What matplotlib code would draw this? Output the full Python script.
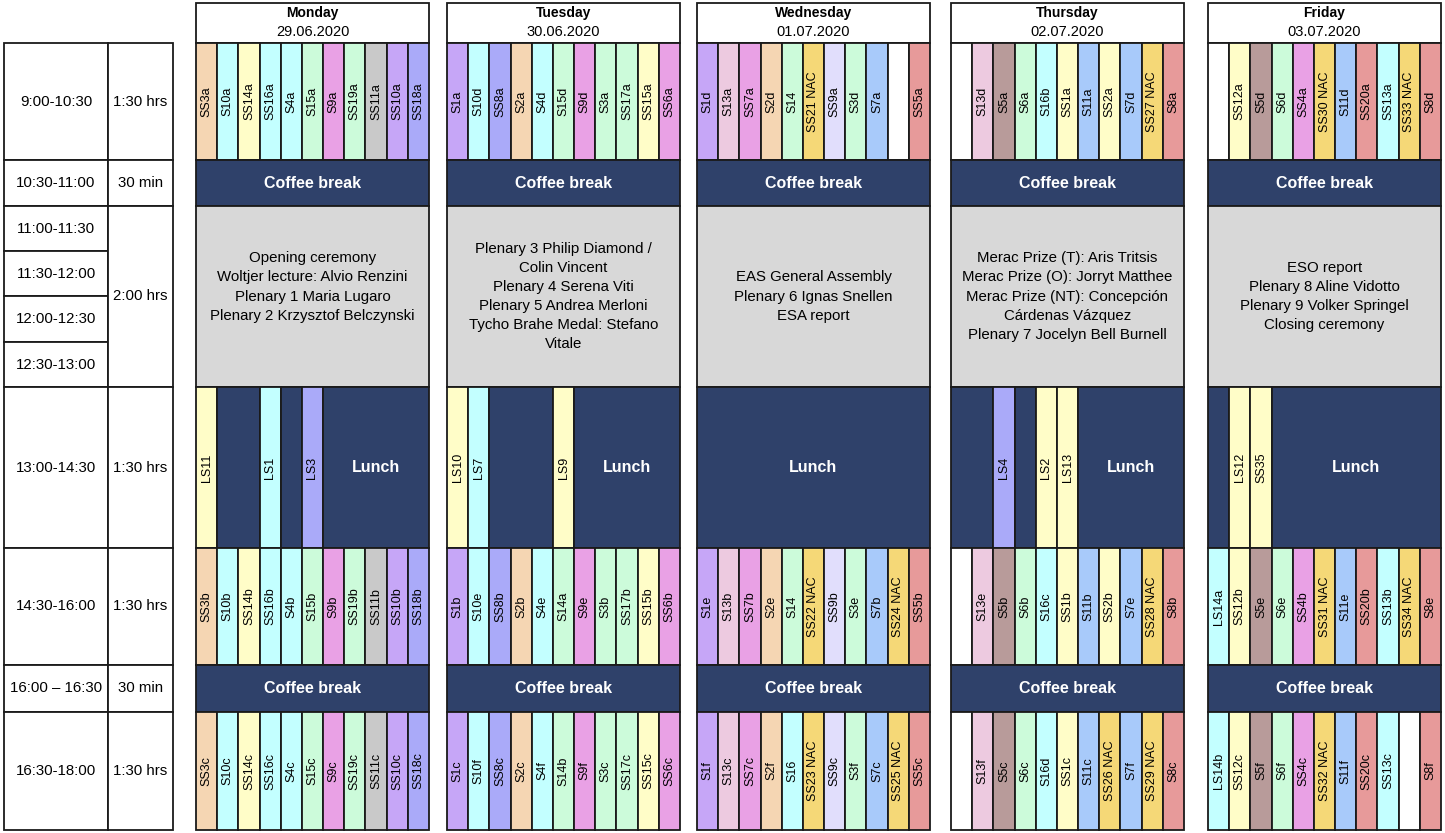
import re
import matplotlib
matplotlib.use("Agg")
import matplotlib.pyplot as plt
from matplotlib.patches import Rectangle

plt.rcParams['font.family'] = ['Liberation Sans', 'DejaVu Sans']

# data
days = ["Monday", "Tuesday", "Wednesday", "Thursday", "Friday"]
dates = ["29.06.2020", "30.06.2020", "01.07.2020", "02.07.2020", "03.07.2020"]

time_labels = ["9:00-10:30", "10:30-11:00", "11:00-11:30", "11:30-12:00", "12:00-12:30",
               "12:30-13:00", "13:00-14:30", "14:30-16:00", "16:00 \u2013 16:30", "16:30-18:00"]
durations = ["1:30 hrs", "30 min", "2:00 hrs", "1:30 hrs", "1:30 hrs", "30 min", "1:30 hrs"]
duration_span = [1, 1, 4, 1, 1, 1, 1]   # how many time rows each duration covers

morning = [
    ["SS3a", "S10a", "SS14a", "SS16a", "S4a", "S15a", "S9a", "SS19a", "SS11a", "SS10a", "SS18a"],
    ["S1a", "S10d", "SS8a", "S2a", "S4d", "S15d", "S9d", "S3a", "SS17a", "SS15a", "SS6a"],
    ["S1d", "S13a", "SS7a", "S2d", "S14", "SS21 NAC", "SS9a", "S3d", "S7a", "", "SS5a"],
    ["", "S13d", "S5a", "S6a", "S16b", "SS1a", "S11a", "SS2a", "S7d", "SS27 NAC", "S8a"],
    ["", "SS12a", "S5d", "S6d", "SS4a", "SS30 NAC", "S11d", "SS20a", "SS13a", "SS33 NAC", "S8d"],
]
afternoon = [
    ["SS3b", "S10b", "SS14b", "SS16b", "S4b", "S15b", "S9b", "SS19b", "SS11b", "SS10b", "SS18b"],
    ["S1b", "S10e", "SS8b", "S2b", "S4e", "S14a", "S9e", "S3b", "SS17b", "SS15b", "SS6b"],
    ["S1e", "S13b", "SS7b", "S2e", "S14", "SS22 NAC", "SS9b", "S3e", "S7b", "SS24 NAC", "SS5b"],
    ["", "S13e", "S5b", "S6b", "S16c", "SS1b", "S11b", "SS2b", "S7e", "SS28 NAC", "S8b"],
    ["LS14a", "SS12b", "S5e", "S6e", "SS4b", "SS31 NAC", "S11e", "SS20b", "SS13b", "SS34 NAC", "S8e"],
]
evening = [
    ["SS3c", "S10c", "SS14c", "SS16c", "S4c", "S15c", "S9c", "SS19c", "SS11c", "SS10c", "SS18c"],
    ["S1c", "S10f", "SS8c", "S2c", "S4f", "S14b", "S9f", "S3c", "SS17c", "SS15c", "SS6c"],
    ["S1f", "S13c", "SS7c", "S2f", "S16", "SS23 NAC", "SS9c", "S3f", "S7c", "SS25 NAC", "SS5c"],
    ["", "S13f", "S5c", "S6c", "S16d", "SS1c", "S11c", "SS26 NAC", "S7f", "SS29 NAC", "S8c"],
    ["LS14b", "SS12c", "S5f", "S6f", "SS4c", "SS32 NAC", "S11f", "SS20c", "SS13c", "", "S8f"],
]
# lunch talks; None = lunch (dark) slot, the trailing dark run carries the "Lunch" label
lunch = [
    ["LS11", None, None, "LS1", None, "LS3"],
    ["LS10", "LS7", None, None, None, "LS9"],
    [],
    [None, None, "LS4", None, "LS2", "LS13"],
    [None, "LS12", "SS35"],
]
plenary = [
    "Opening ceremony\nWoltjer lecture: Alvio Renzini\nPlenary 1 Maria Lugaro\nPlenary 2 Krzysztof Belczynski\n",
    "Plenary 3 Philip Diamond /\nColin Vincent\nPlenary 4 Serena Viti\nPlenary 5 Andrea Merloni\nTycho Brahe Medal: Stefano\nVitale",
    "EAS General Assembly\nPlenary 6 Ignas Snellen\nESA report",
    "Merac Prize (T): Aris Tritsis\nMerac Prize (O): Jorryt Matthee\nMerac Prize (NT): Concepci\u00f3n\nC\u00e1rdenas V\u00e1zquez\nPlenary 7 Jocelyn Bell Burnell",
    "ESO report\nPlenary 8 Aline Vidotto\nPlenary 9 Volker Springel\nClosing ceremony",
]

# colours
peach, cyan, yellow, green = "#F5D6B3", "#C3FFFF", "#FFFDC8", "#CCFBDA"
pink, grey, violet, peri = "#E9A1E5", "#C9C9C9", "#C6A6F7", "#AAAAF9"
rose, gold, lav, sky = "#EDCAE0", "#F5D877", "#E1DEFC", "#A8CAFA"
salmon, taupe = "#E79A9A", "#B89B9A"
navy, plen_grey = "#2F416A", "#D8D8D8"

track_color = {
    "SS3": peach, "S10": cyan, "SS14": yellow, "SS16": cyan, "S4": cyan, "S15": green,
    "S9": pink, "SS19": green, "SS11": grey, "SS10": violet, "SS18": peri,
    "S1": violet, "SS8": peri, "S2": peach, "S3": green, "SS17": green, "SS15": yellow,
    "SS6": pink, "S14": green, "S13": rose, "SS7": pink, "SS9": lav, "S7": sky,
    "SS5": salmon, "S16": cyan, "S5": taupe, "S6": green, "SS1": yellow, "S11": sky,
    "SS2": yellow, "S8": salmon, "SS12": yellow, "SS4": pink, "SS20": salmon,
    "SS13": cyan, "LS14": cyan, "LS11": yellow, "LS1": cyan, "LS3": peri,
    "LS10": yellow, "LS7": cyan, "LS9": yellow, "LS4": peri, "LS2": yellow,
    "LS13": yellow, "LS12": yellow, "SS35": yellow,
}


def colour_of(label):
    if not label:
        return "white"
    if "NAC" in label:
        return gold
    return track_color[re.match(r"[A-Z]+\d+", label).group()]


# layout (pixels)
W, H = 1445, 833
row_y = [43, 160, 206, 251, 296, 342, 387, 548, 665, 712, 830]
day_x = [196, 447, 697, 951, 1208]
day_w = 233
ncol = 11
cw = day_w / ncol
left_x = [4, 108, 173]
edge = "#1a1a1a"

fig = plt.figure(figsize=(W / 100, H / 100), dpi=100)
ax = fig.add_axes([0, 0, 1, 1])
ax.set_xlim(0, W)
ax.set_ylim(H, 0)
ax.axis("off")


def box(x, y, w, h, fc, lw=1.3, ec=edge):
    ax.add_patch(Rectangle((x, y), w, h, facecolor=fc, edgecolor=ec, linewidth=lw))


# time table on the left
for i, lab in enumerate(time_labels):
    y0, y1 = row_y[i], row_y[i + 1]
    box(left_x[0], y0, left_x[1] - left_x[0], y1 - y0, "white")
    ax.text((left_x[0] + left_x[1]) / 2, (y0 + y1) / 2, lab, ha="center", va="center", fontsize=10.8)
r = 0
for lab, span in zip(durations, duration_span):
    y0, y1 = row_y[r], row_y[r + span]
    box(left_x[1], y0, left_x[2] - left_x[1], y1 - y0, "white")
    ax.text((left_x[1] + left_x[2]) / 2, (y0 + y1) / 2, lab, ha="center", va="center", fontsize=10.8)
    r += span


def session_row(x0, y0, y1, labels):
    for j, lab in enumerate(labels):
        x = x0 + j * cw
        box(x, y0, cw, y1 - y0, colour_of(lab))
        if lab:
            ax.text(x + cw / 2, (y0 + y1) / 2, lab, rotation=90, ha="center", va="center",
                    fontsize=9, rotation_mode="anchor")


def dark_row(x0, y0, y1, label):
    box(x0, y0, day_w, y1 - y0, navy)
    ax.text(x0 + day_w / 2, (y0 + y1) / 2, label, ha="center", va="center",
            color="white", fontsize=11.5, fontweight="bold")


for d in range(5):
    x0 = day_x[d]
    # header
    box(x0, 3, day_w, 40, "white")
    ax.text(x0 + day_w / 2, 13, days[d], ha="center", va="center", fontsize=10, fontweight="bold")
    ax.text(x0 + day_w / 2, 32, dates[d], ha="center", va="center", fontsize=10.5)

    session_row(x0, row_y[0], row_y[1], morning[d])
    dark_row(x0, row_y[1], row_y[2], "Coffee break")

    # plenary block
    box(x0, row_y[2], day_w, row_y[6] - row_y[2], plen_grey)
    ax.text(x0 + day_w / 2, (row_y[2] + row_y[6]) / 2, plenary[d], ha="center", va="center",
            fontsize=10.8, linespacing=1.47)

    # lunch row
    y0, y1 = row_y[6], row_y[7]
    slots = lunch[d]
    j = 0
    while j < len(slots):
        if slots[j] is None:
            k = j
            while k < len(slots) and slots[k] is None:
                k += 1
            box(x0 + j * cw, y0, (k - j) * cw, y1 - y0, navy)
            j = k
        else:
            box(x0 + j * cw, y0, cw, y1 - y0, colour_of(slots[j]))
            ax.text(x0 + j * cw + cw / 2, (y0 + y1) / 2, slots[j], rotation=90, ha="center",
                    va="center", fontsize=9, rotation_mode="anchor")
            j += 1
    n = len(slots)
    box(x0 + n * cw, y0, (ncol - n) * cw, y1 - y0, navy)
    ax.text(x0 + (n * cw + day_w) / 2, (y0 + y1) / 2, "Lunch", ha="center", va="center",
            color="white", fontsize=11.5, fontweight="bold")

    session_row(x0, row_y[7], row_y[8], afternoon[d])
    dark_row(x0, row_y[8], row_y[9], "Coffee break")
    session_row(x0, row_y[9], row_y[10], evening[d])

fig.savefig("out.png", dpi=100)
